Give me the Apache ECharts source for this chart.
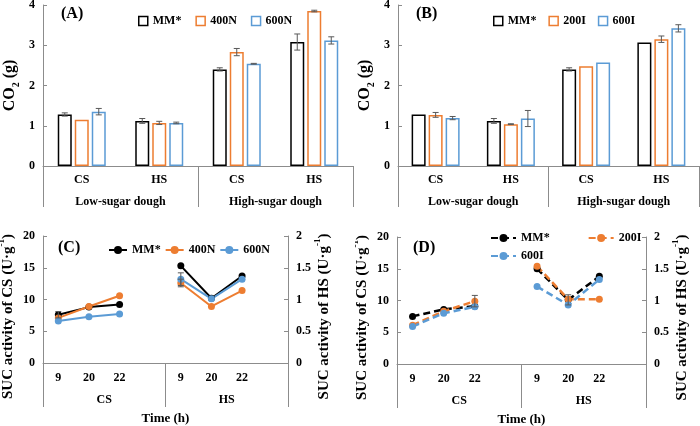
<!DOCTYPE html>
<html>
<head>
<meta charset="utf-8">
<script src="https://cdn.jsdelivr.net/npm/echarts@6/dist/echarts.min.js"></script>
<style>
  body { margin: 0; background: #fff; }
  .panel { position: absolute; }
</style>
</head>
<body>
<div id="panelA" class="panel" style="left:0;top:0;width:355px;height:215px"></div>
<div id="panelB" class="panel" style="left:355px;top:0;width:345px;height:215px"></div>
<div id="panelC" class="panel" style="left:0;top:215px;width:355px;height:211px"></div>
<div id="panelD" class="panel" style="left:355px;top:215px;width:345px;height:211px"></div>
<script>
// ---- data: CO2 bars ----
var barCats = ['CS', 'HS', 'CS', 'HS'];
var doughGroups = ['Low-sugar dough', 'High-sugar dough'];

var namesA = ['MM*', '400N', '600N'];
var mmA = [1.28, 1.12, 2.40, 3.08];
var mmAErr = [0.04, 0.06, 0.04, 0.20];
var n400 = [1.15, 1.07, 2.83, 3.85];
var n400Err = [0, 0.04, 0.09, 0.02];
var n600 = [1.35, 1.07, 2.54, 3.12];
var n600Err = [0.08, 0.02, 0.01, 0.09];

var namesB = ['MM*', '200I', '600I'];
var mmB = [1.28, 1.12, 2.40, 3.07];
var mmBErr = [0, 0.06, 0.04, 0];
var i200 = [1.27, 1.04, 2.48, 3.15];
var i200Err = [0.06, 0.01, 0, 0.08];
var i600 = [1.19, 1.18, 2.57, 3.42];
var i600Err = [0.04, 0.20, 0, 0.09];

// ---- data: SUC activity lines (CS on left axis, HS on right axis) ----
var timeLabels = ['9', '20', '22'];
var stages = ['CS', 'HS'];

var mmC_cs = [7.6, 8.8, 9.2],   mmC_hs = [1.53, 1.02, 1.37];
var n400C_cs = [7.1, 8.9, 10.6], n400C_hs = [1.26, 0.89, 1.14];
var n600C_cs = [6.6, 7.3, 7.7],  n600C_hs = [1.32, 1.01, 1.32];
var mmC_csErr = [0.5, 0, 0],     mmC_hsErr = [0, 0, 0];
var n400C_csErr = [0, 0, 0],     n400C_hsErr = [0.06, 0, 0];
var n600C_csErr = [0, 0, 0],     n600C_hsErr = [0.10, 0, 0];

var mmD_cs = [7.5, 8.6, 9.1],   mmD_hs = [1.50, 1.01, 1.38];
var i200D_cs = [6.1, 8.3, 9.9], i200D_hs = [1.54, 1.02, 1.02];
var i600D_cs = [5.9, 8.0, 9.0], i600D_hs = [1.22, 0.93, 1.33];
var mmD_csErr = [0, 0, 0],      mmD_hsErr = [0, 0.08, 0];
var i200D_csErr = [0, 0, 0.9],  i200D_hsErr = [0, 0, 0];
var i600D_csErr = [0, 0, 0],    i600D_hsErr = [0, 0, 0];

var FONT = 'Liberation Serif';
var GRAY = '#8c8c8c';
var ERR = '#595959';
var COLORS = ['#000000', '#ED7D31', '#5B9BD5'];

function txt(size) {
  return { fontFamily: FONT, fontWeight: 'bold', fontSize: size, color: '#000' };
}

// error bars drawn through the axes
function errSeries(vals, errs, offset, xIdx, yIdx) {
  var data = [];
  vals.forEach(function (v, k) {
    if (v != null && errs[k]) data.push([k, v - errs[k], v + errs[k]]);
  });
  return {
    type: 'custom', xAxisIndex: xIdx, yAxisIndex: yIdx, z: 10, silent: true,
    encode: { x: 0, y: [1, 2] },
    data: data,
    renderItem: function (params, api) {
      var lo = api.coord([api.value(0), api.value(1)]);
      var hi = api.coord([api.value(0), api.value(2)]);
      var x = lo[0] + offset, c = 3;
      var st = { stroke: ERR, lineWidth: 1 };
      return { type: 'group', children: [
        { type: 'line', shape: { x1: x, y1: lo[1], x2: x, y2: hi[1] }, style: st },
        { type: 'line', shape: { x1: x - c, y1: lo[1], x2: x + c, y2: lo[1] }, style: st },
        { type: 'line', shape: { x1: x - c, y1: hi[1], x2: x + c, y2: hi[1] }, style: st }
      ]};
    }
  };
}

function barPanel(el, tag, names, vals, errs, gridW, legendGap) {
  var chart = echarts.init(document.getElementById(el));
  var bw = 14, gap = 3;
  var series = [];
  names.forEach(function (n, i) {
    series.push({
      name: n, type: 'bar', data: vals[i], barWidth: bw, barGap: (gap / bw * 100) + '%',
      itemStyle: { color: '#fff', borderColor: COLORS[i], borderWidth: 1.5 }
    });
  });
  names.forEach(function (n, i) {
    series.push(errSeries(vals[i], errs[i], (i - 1) * (bw + gap), 0, 0));
  });
  chart.setOption({
    animation: false,
    title: { text: tag, left: 56, top: 1, textStyle: txt(16) },
    legend: {
      left: 133, top: 10, itemWidth: 9, itemHeight: 9, itemGap: legendGap, icon: 'rect',
      textStyle: txt(12),
      data: names.map(function (n, i) {
        return { name: n, itemStyle: { color: '#fff', borderColor: COLORS[i], borderWidth: 1.5 } };
      })
    },
    grid: { left: 43, top: 5, width: gridW, height: 161, outerBoundsMode: 'none' },
    xAxis: [{
      type: 'category', data: barCats,
      axisLine: { lineStyle: { color: GRAY, width: 1 } },
      axisTick: { show: false },
      axisLabel: Object.assign({ margin: 8 }, txt(12))
    }, {
      type: 'category', data: doughGroups, position: 'bottom',
      axisLine: { show: false },
      axisTick: { show: true, length: 41, interval: 0, lineStyle: { color: GRAY } },
      axisLabel: Object.assign({ margin: 30 }, txt(12))
    }],
    yAxis: {
      type: 'value', min: 0, max: 4, interval: 1,
      name: '{a|CO}{s|2}{a| (g)}', nameLocation: 'middle', nameGap: 22, nameMoveOverlap: false,
      nameTextStyle: { rich: {
        a: Object.assign({ lineHeight: 22 }, txt(16)),
        s: Object.assign({ lineHeight: 10, verticalAlign: 'bottom' }, txt(10))
      }},
      axisLine: { show: true, lineStyle: { color: GRAY } },
      axisTick: { show: true, inside: true, length: 4, lineStyle: { color: GRAY } },
      splitLine: { show: false },
      axisLabel: Object.assign({ margin: 8 }, txt(12))
    },
    series: series
  });
}

function lineCats() {
  return timeLabels.concat(['']).concat(timeLabels).concat(['']);
}
function csData(a) { return a.concat([null, null, null, null, null]); }
function hsData(a) { return [null, null, null, null].concat(a).concat([null]); }

function sucName(stage) {
  return '{a|SUC activity of ' + stage + ' (U\u00b7g}{p|-1}{a|)}';
}
function sucNameStyle() {
  return {
    padding: [0, 34, 0, 0],
    rich: {
      a: Object.assign({ lineHeight: 22 }, txt(15)),
      p: Object.assign({ lineHeight: 9, verticalAlign: 'top' }, txt(9))
    }
  };
}

function linePanel(el, tag, names, cs, hs, csErr, hsErr, dashed, grid, legends) {
  var chart = echarts.init(document.getElementById(el));
  var series = [];
  var cats = lineCats();
  names.forEach(function (n, i) {
    var ls = { color: COLORS[i], width: dashed ? 2.5 : 2, type: dashed ? [7, 4] : 'solid' };
    var common = {
      name: n, type: 'line', xAxisIndex: 0, symbol: 'circle', symbolSize: 7,
      itemStyle: { color: COLORS[i] }, lineStyle: ls, connectNulls: false
    };
    series.push(Object.assign({ yAxisIndex: 0, data: csData(cs[i]) }, common));
    series.push(Object.assign({ yAxisIndex: 1, data: hsData(hs[i]) }, common));
    series.push(errSeries(csData(cs[i]), csData(csErr[i]), 0, 0, 0));
    series.push(errSeries(hsData(hs[i]), hsData(hsErr[i]), 0, 0, 1));
  });
  var yBase = {
    type: 'value', nameLocation: 'middle', nameTextStyle: sucNameStyle(), nameMoveOverlap: false,
    axisLine: { show: true, lineStyle: { color: GRAY } },
    axisTick: { show: true, inside: true, length: 4, lineStyle: { color: GRAY } },
    splitLine: { show: false }
  };
  grid.outerBoundsMode = 'none';
  chart.setOption({
    animation: false,
    title: { text: tag, left: 53, top: 20, textStyle: txt(16) },
    legend: legends.map(function (lg) {
      return Object.assign({ itemWidth: lg.w, itemHeight: 10, textStyle: txt(12) }, lg.opt);
    }),
    grid: grid,
    xAxis: [{
      type: 'category', data: cats,
      axisLine: { lineStyle: { color: GRAY } },
      axisTick: { show: false },
      axisLabel: Object.assign({ margin: 9, interval: 0 }, txt(12))
    }, {
      type: 'category', data: stages, position: 'bottom',
      name: 'Time (h)', nameLocation: 'middle', nameGap: 49, nameMoveOverlap: false,
      nameTextStyle: txt(13),
      axisLine: { show: false },
      axisTick: { show: true, length: 44, interval: 0, lineStyle: { color: GRAY } },
      axisLabel: Object.assign({ margin: 31 }, txt(12))
    }],
    yAxis: [
      Object.assign({}, yBase, {
        min: 0, max: 20, interval: 5, position: 'left',
        name: sucName('CS'), nameGap: 24,
        axisLabel: Object.assign({ margin: 8 }, txt(12))
      }),
      Object.assign({}, yBase, {
        min: 0, max: 2, interval: 0.5, position: 'right',
        name: sucName('HS'), nameGap: 25,
        axisLabel: Object.assign({ margin: 8 }, txt(12))
      })
    ],
    series: series
  });
}

barPanel('panelA', '(A)', namesA, [mmA, n400, n600], [mmAErr, n400Err, n600Err], 310, 14);
barPanel('panelB', '(B)', namesB, [mmB, i200, i600], [mmBErr, i200Err, i600Err], 301, 12);

linePanel('panelC', '(C)', namesA,
  [mmC_cs, n400C_cs, n600C_cs], [mmC_hs, n400C_hs, n600C_hs],
  [mmC_csErr, n400C_csErr, n600C_csErr], [mmC_hsErr, n400C_hsErr, n600C_hsErr],
  false, { left: 43, top: 21, width: 245, height: 127 },
  [{ w: 18, opt: { left: 103, top: 24, itemGap: 4, data: namesA } }]);

linePanel('panelD', '(D)', namesB,
  [mmD_cs, i200D_cs, i600D_cs], [mmD_hs, i200D_hs, i600D_hs],
  [mmD_csErr, i200D_csErr, i600D_csErr], [mmD_hsErr, i200D_hsErr, i600D_hsErr],
  true, { left: 42, top: 22, width: 249, height: 127 },
  [{ w: 25, opt: { left: 130, top: 12, itemGap: 38, data: ['MM*', '200I'] } },
   { w: 25, opt: { left: 130, top: 30, data: ['600I'] } }]);
</script>
</body>
</html>
